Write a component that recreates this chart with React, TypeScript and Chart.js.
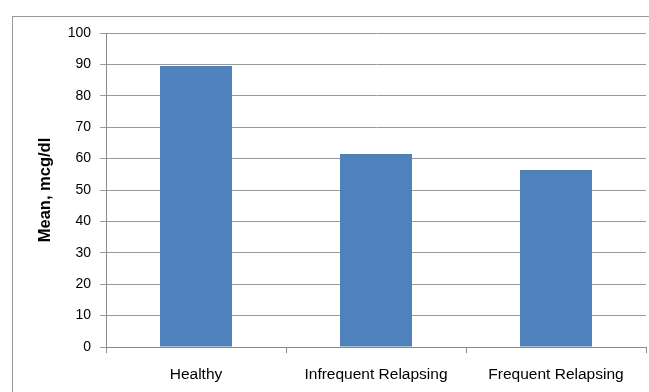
import React, { useEffect, useRef } from "react";
import { Chart, registerables } from "chart.js";

Chart.register(...registerables);

const categories = ["Healthy", "Infrequent Relapsing", "Frequent Relapsing"];
const meanValues = [89.5, 61.5, 56.4];
const yTicks = [0, 10, 20, 30, 40, 50, 60, 70, 80, 90, 100];

const framePlugin = {
  id: "frame",
  beforeDraw(chart: any) {
    const ctx = chart.ctx;
    ctx.save();
    ctx.fillStyle = "#ffffff";
    ctx.fillRect(0, 0, chart.width, chart.height);
    ctx.strokeStyle = "#9a9a9a";
    ctx.lineWidth = 1;
    ctx.strokeRect(12.5, 16.5, chart.width + 10, chart.height + 10);
    ctx.restore();
  },
};

export default function App() {
  const ref = useRef<HTMLCanvasElement>(null);
  useEffect(() => {
    document.body.style.margin = "0";
    const chart = new Chart(ref.current!, {
      type: "bar",
      data: {
        labels: categories,
        datasets: [
          {
            data: meanValues,
            backgroundColor: "#4f81bd",
            borderWidth: 0,
            categoryPercentage: 1,
            barPercentage: 0.4,
          },
        ],
      },
      plugins: [framePlugin],
      options: {
        responsive: false,
        animation: false,
        events: [],
        layout: { padding: { left: 32, top: 33, right: 3, bottom: 0 } },
        plugins: { legend: { display: false }, tooltip: { enabled: false } },
        scales: {
          x: {
            border: { color: "#8a8a8a", width: 1 },
            grid: {
              offset: true,
              drawOnChartArea: false,
              drawTicks: true,
              tickLength: 6,
              color: "#8a8a8a",
            },
            ticks: {
              color: "#000",
              padding: 12,
              font: { family: "'Liberation Sans', Arial", size: 15.5 },
            },
            afterFit(scale: any) {
              scale.height = 45;
            },
          },
          y: {
            min: 0,
            max: 100,
            afterBuildTicks(scale: any) {
              scale.ticks = yTicks.map((v) => ({ value: v }));
            },
            border: { color: "#8a8a8a", width: 1 },
            grid: {
              color: "#9a9a9a",
              tickLength: 6,
            },
            ticks: {
              color: "#000",
              padding: 9,
              font: { family: "'Liberation Sans', Arial", size: 14 },
            },
            title: {
              display: true,
              text: "Mean, mcg/dl",
              color: "#000",
              padding: { top: 4, bottom: 4 },
              font: { family: "'Liberation Sans', Arial", size: 16.5, weight: "bold" },
            },
            afterFit(scale: any) {
              scale.width = 74;
            },
          },
        },
      },
    });
    return () => chart.destroy();
  }, []);
  return (
    <div style={{ width: 649, height: 392 }}>
      <canvas ref={ref} width={649} height={392} style={{ display: "block" }} />
    </div>
  );
}
